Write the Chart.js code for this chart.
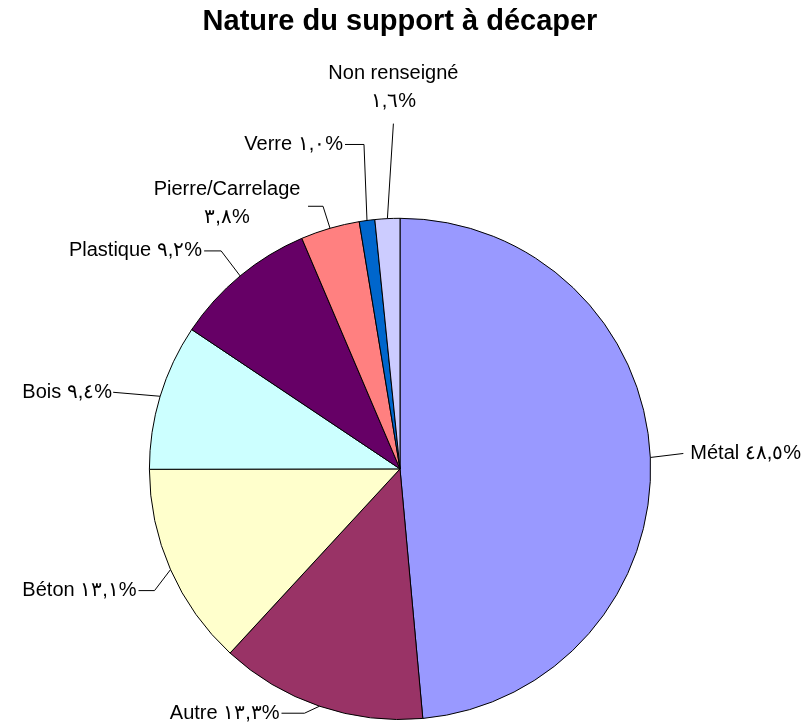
<!DOCTYPE html>
<html lang="fr">
<head>
    <meta charset="UTF-8">
    <title>Nature du support à décaper</title>
    <script src="https://cdn.jsdelivr.net/npm/chart.js"></script>
    <style>
        body { margin: 0; background: #fff; }
        canvas { display: block; }
    </style>
</head>
<body>
    <canvas id="myChart" width="810" height="722"></canvas>
    <script>
        // data (percent)
        const categories = ['Métal', 'Autre', 'Béton', 'Bois', 'Plastique', 'Pierre/Carrelage', 'Verre', 'Non renseigné'];
        const shares = [48.5, 13.3, 13.1, 9.4, 9.2, 3.8, 1.0, 1.6];
        const sliceColors = ['#9999FF', '#993366', '#FFFFCC', '#CCFFFF', '#660066', '#FF8080', '#0066CC', '#CCCCFF'];

        // leader line + label placement, offsets from the slice's outer edge
        const leaderLayout = [
            { path: [[33, -4]], text: { dx: 7, dy: 0, align: 'left' } },
            { path: [[-15, 7], [-23, 0]], text: { dx: -2, dy: 0, align: 'right' } },
            { path: [[-16, 21], [-16, 0]], text: { dx: -2, dy: 0, align: 'right' } },
            { path: [[-47, -4]], text: { dx: -1, dy: 0, align: 'right' } },
            { path: [[-19, -25], [-17, 0]], text: { dx: -2, dy: 0, align: 'right' } },
            { path: [[-7, -22], [-15, 0]], text: { dx: -81, dy: -17, align: 'center' }, split: true },
            { path: [[-3, -76], [-19, 0]], text: { dx: -2, dy: 0, align: 'right' } },
            { path: [[6, -95]], text: { dx: 0, dy: -50, align: 'center' }, split: true }
        ];

        const arabicDigits = '٠١٢٣٤٥٦٧٨٩';
        function fmtPct(v) {
            return v.toFixed(1).replace('.', ',').replace(/[0-9]/g, d => arabicDigits[d]) + '%';
        }

        const leaderLabels = {
            id: 'leaderLabels',
            afterDatasetsDraw(chart) {
                const ctx = chart.ctx;
                const meta = chart.getDatasetMeta(0);
                ctx.save();
                ctx.font = '20px "Liberation Sans", Arial, sans-serif';
                ctx.fillStyle = '#000';
                ctx.strokeStyle = '#000';
                ctx.lineWidth = 1;
                ctx.textBaseline = 'middle';
                meta.data.forEach((arc, i) => {
                    const p = arc.getProps(['x', 'y', 'startAngle', 'endAngle', 'outerRadius'], true);
                    const mid = (p.startAngle + p.endAngle) / 2;
                    let px = p.x + Math.cos(mid) * p.outerRadius;
                    let py = p.y + Math.sin(mid) * p.outerRadius;
                    const lay = leaderLayout[i];
                    ctx.beginPath();
                    ctx.moveTo(px, py);
                    lay.path.forEach(([dx, dy]) => {
                        px += dx;
                        py += dy;
                        ctx.lineTo(px, py);
                    });
                    ctx.stroke();

                    const lines = lay.split
                        ? [categories[i], fmtPct(shares[i])]
                        : [categories[i] + ' ' + fmtPct(shares[i])];
                    ctx.textAlign = lay.text.align;
                    lines.forEach((line, k) => {
                        ctx.fillText(line, px + lay.text.dx, py + lay.text.dy + k * 28);
                    });
                });
                ctx.restore();
            }
        };

        const ctx = document.getElementById('myChart').getContext('2d');
        new Chart(ctx, {
            type: 'pie',
            data: {
                labels: categories,
                datasets: [{
                    data: shares,
                    backgroundColor: sliceColors,
                    borderColor: '#000',
                    borderWidth: 1
                }]
            },
            options: {
                responsive: false,
                animation: false,
                layout: { padding: { left: 0, right: 10, top: 0, bottom: 2 } },
                plugins: {
                    legend: { display: false },
                    tooltip: { enabled: false },
                    title: {
                        display: true,
                        text: 'Nature du support à décaper',
                        color: '#000',
                        font: { family: '"Liberation Sans", Arial, sans-serif', size: 29, weight: 'bold' },
                        padding: { top: 5, bottom: 178 }
                    }
                }
            },
            plugins: [leaderLabels]
        });
    </script>
</body>
</html>
